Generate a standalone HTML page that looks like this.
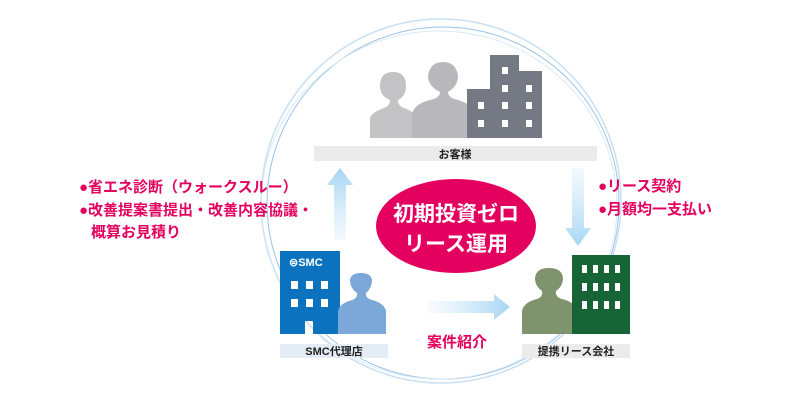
<!DOCTYPE html>
<html><head><meta charset="utf-8"><style>
body{margin:0;background:#fff}
svg{display:block}
text{font-family:"Liberation Sans","Noto Sans CJK JP",sans-serif}
</style></head><body>
<svg width="800" height="400" viewBox="0 0 800 400" xmlns="http://www.w3.org/2000/svg">
<defs>
<linearGradient id="gu" x1="0" y1="1" x2="0" y2="0"><stop offset="0" stop-color="#c6e4f7" stop-opacity="0.2"/><stop offset="1" stop-color="#a6d6f3"/></linearGradient>
<linearGradient id="gd" x1="0" y1="0" x2="0" y2="1"><stop offset="0" stop-color="#c6e4f7" stop-opacity="0.2"/><stop offset="1" stop-color="#a6d6f3"/></linearGradient>
<linearGradient id="gr" x1="0" y1="0" x2="1" y2="0"><stop offset="0" stop-color="#c6e4f7" stop-opacity="0.1"/><stop offset="1" stop-color="#a6d6f3"/></linearGradient>
</defs>
<ellipse cx="441" cy="201" rx="180" ry="182" fill="none" stroke="#c7e0f3" stroke-width="1.5"/>
<ellipse cx="443" cy="203" rx="176" ry="176" fill="none" stroke="#9cc3e6" stroke-width="1"/>
<ellipse cx="439" cy="205" rx="178" ry="174" fill="none" stroke="#d9eaf6" stroke-width="1"/>
<path d="M370 138 V118 Q372 112 384 108 Q390 106 390 100 Q380 96 380 86 Q380 72 393 72 Q406 72 406 86 Q406 96 398 100 Q398 106 404 108 Q416 112 416 120 V138Z" fill="#c3c3c6"/>
<path d="M412 138 V114 Q414 104 430 100 Q440 98 440 92 Q428 86 428 76 Q430 62 443 62 Q456 62 458 76 Q458 86 448 92 Q448 98 458 100 Q472 104 474 114 V138Z" fill="#b9b9bd"/>
<path d="M467 138 V89 H490 V55 H519 V71 H542 V138Z" fill="#757983"/>
<g fill="#fff">
<rect x="502" y="67" width="6" height="7"/><rect x="502" y="85" width="6" height="7"/><rect x="526" y="85" width="6" height="7"/>
<rect x="478" y="102" width="6" height="7"/><rect x="502" y="102" width="6" height="7"/><rect x="526" y="102" width="6" height="7"/>
<rect x="478" y="120" width="6" height="7"/><rect x="502" y="120" width="6" height="7"/><rect x="526" y="120" width="6" height="7"/>
</g>
<rect x="314" y="146" width="283" height="15" fill="#ebebeb"/>
<text x="455" y="158" font-size="11" font-weight="bold" text-anchor="middle" fill="#222">お客様</text>
<path d="M334 240 V185 H327 L340 168 L353 185 H346 V240Z" fill="url(#gu)"/>
<path d="M572 168 V228 H565 L578 246 L591 228 H584 V168Z" fill="url(#gd)"/>
<path d="M427 301 H494 V294 L510 307 L494 320 V313 H427Z" fill="url(#gr)"/>
<ellipse cx="456" cy="226" rx="80" ry="47" fill="#e3005e"/>
<text x="456" y="221" font-size="21" font-weight="bold" text-anchor="middle" fill="#fff">初期投資ゼロ</text>
<text x="456" y="251" font-size="21" font-weight="bold" text-anchor="middle" fill="#fff">リース運用</text>
<g font-size="15" font-weight="bold" fill="#e3005e">
<text x="79" y="192">●省エネ診断（ウォークスルー）</text>
<text x="79" y="215">●改善提案書提出・改善内容協議・</text>
<text x="91" y="237">概算お見積り</text>
<text x="598" y="191">●リース契約</text>
<text x="598" y="214">●月額均一支払い</text>
</g>
<path d="M280 251 H340 V334 H313 V321 H305 V334 H280Z" fill="#0b72c0"/>
<text x="289" y="266" font-size="11" font-weight="bold" fill="#fff">⊜SMC</text>
<g fill="#fff">
<rect x="291" y="281" width="7" height="8"/><rect x="306" y="281" width="7" height="8"/><rect x="321" y="281" width="7" height="8"/>
<rect x="291" y="299" width="7" height="8"/><rect x="306" y="299" width="7" height="8"/><rect x="321" y="299" width="7" height="8"/>
</g>
<path d="M338 334 V311 Q340 303 352 300 Q358 298 357 293 Q350 288 350 280 Q351 273 361 273 Q371 273 372 280 Q372 288 366 293 Q365 298 372 300 Q384 303 386 311 V334Z" fill="#7ba8d8"/>
<rect x="280" y="344" width="108" height="14" fill="#e4ecf6"/>
<text x="334" y="355" font-size="11" font-weight="bold" text-anchor="middle" fill="#222">SMC代理店</text>
<text x="457" y="347" font-size="15" font-weight="bold" text-anchor="middle" fill="#e3005e">案件紹介</text>
<path d="M522 334 V311 Q524 302 537 299 Q543 297 542 291 Q535 286 535 278 Q536 268 549 268 Q562 268 563 278 Q563 286 556 291 Q555 297 562 299 Q575 302 577 311 V334Z" fill="#7f936d"/>
<rect x="572" y="255" width="58" height="79" fill="#176437"/>
<g fill="#fff">
<rect x="582" y="265" width="5" height="8"/><rect x="593" y="265" width="5" height="8"/><rect x="604" y="265" width="5" height="8"/><rect x="615" y="265" width="5" height="8"/>
<rect x="582" y="283" width="5" height="8"/><rect x="593" y="283" width="5" height="8"/><rect x="604" y="283" width="5" height="8"/><rect x="615" y="283" width="5" height="8"/>
<rect x="582" y="301" width="5" height="8"/><rect x="593" y="301" width="5" height="8"/><rect x="604" y="301" width="5" height="8"/><rect x="615" y="301" width="5" height="8"/>
</g>
<rect x="522" y="344" width="108" height="14" fill="#ebebeb"/>
<text x="576" y="355" font-size="11" font-weight="bold" text-anchor="middle" fill="#222">提携リース会社</text>
</svg>
</body></html>
